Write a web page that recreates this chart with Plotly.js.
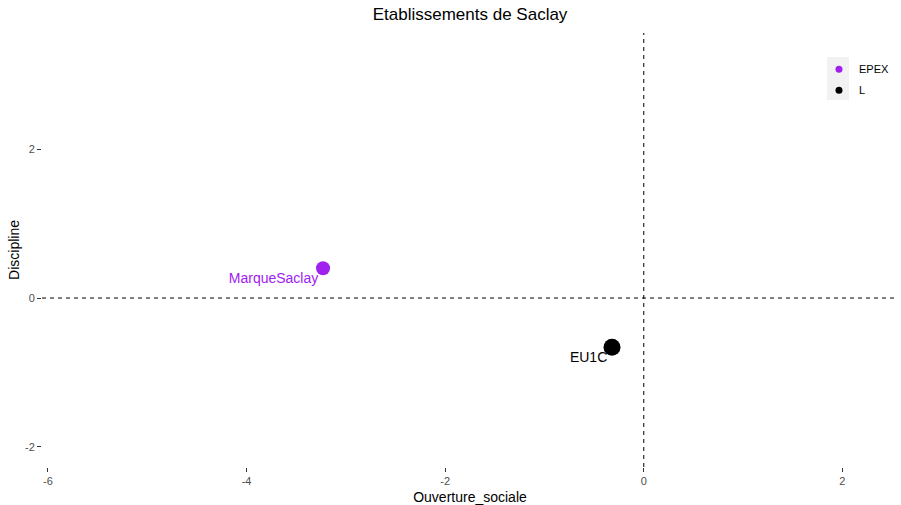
<!DOCTYPE html>
<html>
<head>
<meta charset="utf-8">
<script src="https://cdn.plot.ly/plotly-3.0.1.min.js"></script>
<style>html,body{margin:0;padding:0;background:#fff;}#chart{width:901px;height:505px;}</style>
</head>
<body>
<div id="chart"></div>
<script>
// Data
const groups = ["EPEX", "L"];
const labels = [["MarqueSaclay"], ["EU1C"]];
const ouverture = [[-3.23], [-0.32]];
const discipline = [[0.40], [-0.66]];
const colors = ["#A020F0", "#000000"];
const sizes = [14, 17];
const labelPad = [6, 6];   // invisible marker size used only to offset the label
const xTicks = [-6, -4, -2, 0, 2];
const yTicks = [-2, 0, 2];
const FONT = "Liberation Sans, Arial, sans-serif";

const traces = [];
groups.forEach((g, i) => {
  traces.push({
    type: "scatter", mode: "markers", name: g, showlegend: false, legendgroup: g,
    x: ouverture[i], y: discipline[i],
    marker: {color: colors[i], size: sizes[i]}, cliponaxis: false
  });
  traces.push({
    type: "scatter", mode: "markers+text", name: g, showlegend: false, legendgroup: g,
    x: ouverture[i], y: discipline[i], text: labels[i],
    textposition: "bottom left",
    marker: {size: labelPad[i], opacity: 0},
    textfont: {family: FONT, size: 14, color: colors[i]}, cliponaxis: false
  });
});
// legend keys
groups.forEach((g, i) => {
  traces.push({
    type: "scatter", mode: "markers", name: g, showlegend: true, legendgroup: g,
    x: [null], y: [null],
    marker: {color: colors[i], size: 7}
  });
});

const layout = {
  width: 901, height: 505,
  margin: {l: 42, r: 3, t: 33, b: 38},
  paper_bgcolor: "#ffffff",
  plot_bgcolor: "#ffffff",
  font: {family: FONT, color: "#000"},
  title: {text: "Etablissements de Saclay", x: 0.5217, xanchor: "center", y: 0.972, yanchor: "middle",
          font: {size: 17, color: "#000"}},
  xaxis: {
    range: [-6.06, 2.56], tickvals: xTicks, ticktext: xTicks.map(String),
    showgrid: false, zeroline: false, showline: false, automargin: false,
    ticks: "outside", ticklen: 4, tickcolor: "#333", tickwidth: 1,
    tickfont: {size: 11, color: "#4d4d4d"},
    title: {text: "Ouverture_sociale", font: {size: 14, color: "#000"}, standoff: 6}
  },
  yaxis: {
    range: [-2.27, 3.56], tickvals: yTicks, ticktext: yTicks.map(String),
    showgrid: false, zeroline: false, showline: false, automargin: false,
    ticks: "outside", ticklen: 4, tickcolor: "#333", tickwidth: 1,
    tickfont: {size: 11, color: "#4d4d4d"},
    title: {text: "Discipline", font: {size: 14, color: "#000"}, standoff: 2}
  },
  shapes: [
    {type: "line", xref: "paper", yref: "y", x0: 0, x1: 1, y0: 0, y1: 0,
     line: {color: "#000", width: 1, dash: "4px,4px"}, layer: "below"},
    {type: "line", xref: "x", yref: "paper", x0: 0, x1: 0, y0: 0, y1: 1,
     line: {color: "#000", width: 1, dash: "4px,4px"}, layer: "below"},
    {type: "rect", xref: "paper", yref: "paper",
     x0: (827 - 42) / 856, x1: (849 - 42) / 856, y0: (467 - 100) / 434, y1: (467 - 57) / 434,
     fillcolor: "#f2f2f2", line: {width: 0}, layer: "below"}
  ],
  legend: {
    x: 0.9077, y: 0.95, xanchor: "left", yanchor: "top",
    bgcolor: "rgba(255,255,255,0)", borderwidth: 0,
    font: {size: 11, color: "#000"},
    itemwidth: 30, traceorder: "grouped", tracegroupgap: 2
  },
  showlegend: true
};

Plotly.newPlot("chart", traces, layout, {displayModeBar: false, staticPlot: true});
</script>
</body>
</html>
